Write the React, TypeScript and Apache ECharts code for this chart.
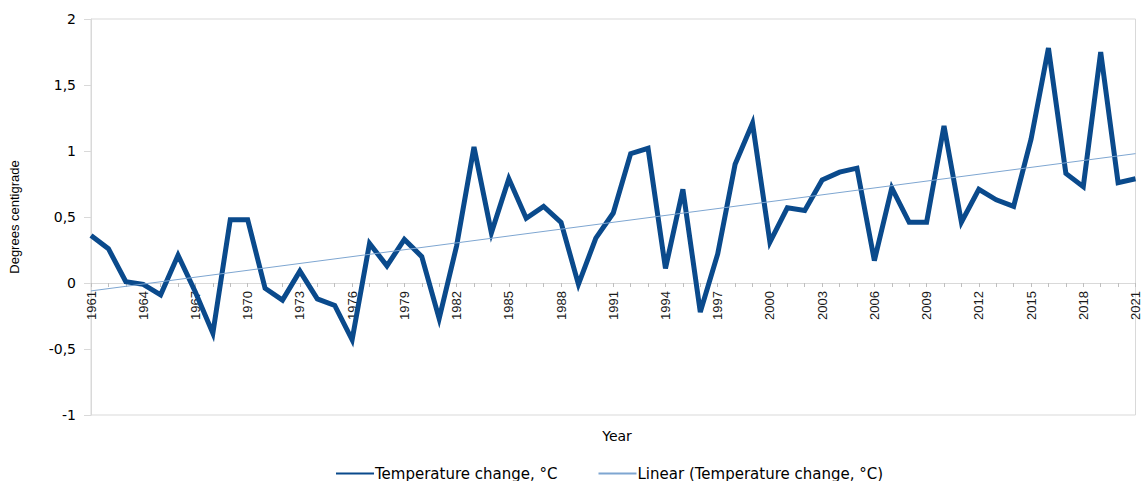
import React, { useEffect, useRef } from "react";
import * as echarts from "echarts";

const years: string[] = [];
for (let y = 1961; y <= 2021; y++) years.push(String(y));

const temperatureChange: number[] = [
  0.36, 0.26, 0.01, -0.01, -0.09, 0.21, -0.07, -0.38, 0.48, 0.48,
  -0.04, -0.13, 0.09, -0.12, -0.17, -0.43, 0.30, 0.13, 0.33, 0.20,
  -0.27, 0.28, 1.03, 0.38, 0.79, 0.49, 0.58, 0.46, -0.01, 0.34,
  0.53, 0.98, 1.02, 0.11, 0.71, -0.22, 0.22, 0.90, 1.21, 0.31,
  0.57, 0.55, 0.78, 0.84, 0.87, 0.17, 0.72, 0.46, 0.46, 1.19,
  0.46, 0.71, 0.63, 0.58, 1.09, 1.78, 0.83, 0.73, 1.75, 0.76,
  0.79,
];

// Linear trend line end points (1961 and 2021)
const trendEnds: number[] = [-0.06, 0.98];

const yTicks = { min: -1, max: 2, interval: 0.5 };

export default function App() {
  const ref = useRef<HTMLDivElement>(null);
  useEffect(() => {
    if (!ref.current) return;
    const chart = echarts.init(ref.current, undefined, { renderer: "svg" });
    const trendData: (number | null)[] = years.map((_, i) =>
      i === 0 ? trendEnds[0] : i === years.length - 1 ? trendEnds[1] : null
    );
    const gridTop = 19;
    const gridBottom = 66;
    const plotH = 481 - gridTop - gridBottom;
    // distance from bottom of grid to the zero line
    const zeroOffset = (plotH * (0 - yTicks.min)) / (yTicks.max - yTicks.min);
    chart.setOption({
      animation: false,
      grid: {
        left: 90,
        right: 5,
        top: gridTop,
        bottom: gridBottom,
        show: true,
        borderColor: "#d9d9d9",
        borderWidth: 1,
        containLabel: false,
      },
      legend: {
        top: 461,
        left: 330,
        itemWidth: 38,
        itemHeight: 14,
        itemGap: 40,
        itemStyle: { opacity: 0 },
        textStyle: { fontSize: 15, fontFamily: "DejaVu Sans", color: "#000", padding: [0, 0, 0, -4] },
        data: ["Temperature change, °C", "Linear (Temperature change, °C)"],
      },
      graphic: [
        {
          type: "text",
          x: 617,
          y: 436,
          style: {
            text: "Year",
            fontSize: 14,
            fontFamily: "DejaVu Sans",
            fill: "#000",
            align: "center",
            verticalAlign: "middle",
          },
        },
      ],
      xAxis: {
        type: "category",
        data: years,
        boundaryGap: false,
        position: "bottom",
        offset: -zeroOffset,
        axisLine: { onZero: false, lineStyle: { color: "#d9d9d9", width: 1 } },
        axisTick: { show: true, interval: 0, length: 4, lineStyle: { color: "#bfbfbf" } },
        axisLabel: {
          interval: 2,
          rotate: 90,
          margin: 8,
          fontSize: 13,
          fontFamily: "Liberation Sans",
          color: "#1a1a1a",
        },
        splitLine: { show: false },
      },
      yAxis: {
        type: "value",
        min: yTicks.min,
        max: yTicks.max,
        interval: yTicks.interval,
        name: "Degrees centigrade",
        nameLocation: "middle",
        nameGap: 70,
        nameTextStyle: { fontSize: 13, fontFamily: "Liberation Sans", color: "#000" },
        axisLine: { show: true, lineStyle: { color: "#d9d9d9", width: 1 } },
        axisTick: { show: true, length: 7, lineStyle: { color: "#d9d9d9" } },
        axisLabel: {
          margin: 15,
          fontSize: 14,
          fontFamily: "DejaVu Sans",
          color: "#000",
          formatter: (v: number) => String(v).replace(".", ","),
        },
        splitLine: { show: false },
      },
      series: [
        {
          name: "Temperature change, °C",
          type: "line",
          data: temperatureChange,
          symbol: "none",
          lineStyle: { color: "#0a4a8c", width: 5, join: "miter" },
          itemStyle: { color: "#0a4a8c" },
          z: 2,
        },
        {
          name: "Linear (Temperature change, °C)",
          type: "line",
          data: trendData,
          connectNulls: true,
          symbol: "none",
          lineStyle: { color: "#7ea6d1", width: 1 },
          itemStyle: { color: "#7ea6d1" },
          z: 3,
        },
      ],
    });
    return () => chart.dispose();
  }, []);
  return (
    <div
      ref={ref}
      style={{ position: "fixed", left: 0, top: 0, width: 1142, height: 481, background: "#fff" }}
    />
  );
}
